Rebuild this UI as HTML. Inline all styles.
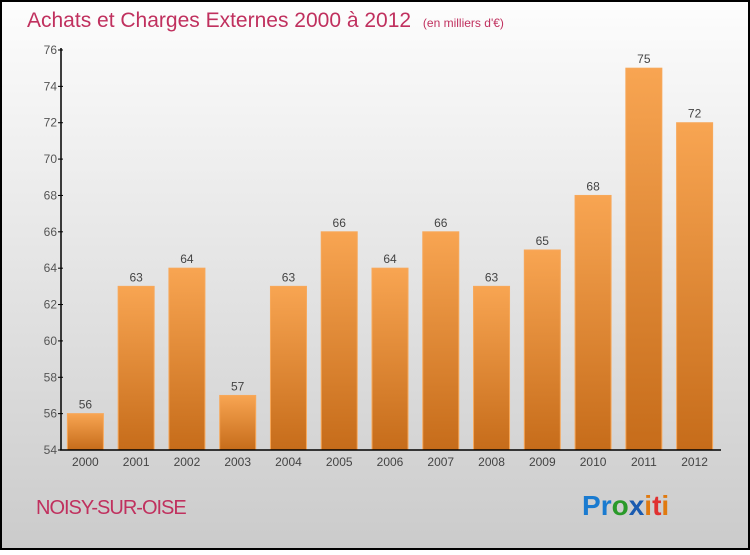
<!DOCTYPE html>
<html><head><meta charset="utf-8"><style>
body{margin:0}
#c{width:750px;height:550px;position:relative;font-family:"Liberation Sans",sans-serif}
</style></head><body>
<div id="c">
<svg id="s" width="750" height="550" xmlns="http://www.w3.org/2000/svg">
<defs>
<linearGradient id="bg" x1="0" y1="0" x2="0" y2="1"><stop offset="0" stop-color="#fdfdfd"/><stop offset="1" stop-color="#cbcbcb"/></linearGradient>
<linearGradient id="bar" x1="0" y1="0" x2="0" y2="1"><stop offset="0" stop-color="#f8a552"/><stop offset="1" stop-color="#c66c1a"/></linearGradient>
</defs>
<rect x="1" y="1" width="748" height="548" fill="url(#bg)" stroke="#000" stroke-width="2"/>
<text x="27" y="27" font-size="21" fill="#c0305e">Achats et Charges Externes 2000 à 2012 <tspan font-size="12" dx="6">(en milliers d'€)</tspan></text>
<g id="bars"></g>
<g id="axes"></g>
<text x="36" y="514" font-size="20" fill="#c0305e" letter-spacing="-1">NOISY-SUR-OISE</text>
<text x="582" y="515" font-size="28" font-weight="bold"><tspan fill="#1a7bd0">P</tspan><tspan fill="#1a7bd0">r</tspan><tspan fill="#2a9a2a">o</tspan><tspan fill="#1a5bb0">x</tspan><tspan fill="#e07a10">i</tspan><tspan fill="#e03030">t</tspan><tspan fill="#e07a10">i</tspan></text>
</svg></div>
<script>
const categories=["2000","2001","2002","2003","2004","2005","2006","2007","2008","2009","2010","2011","2012"];
const values=[56,63,64,57,63,66,64,66,63,65,68,75,72];
const yTicks=[54,56,58,60,62,64,66,68,70,72,74,76];
const NS="http://www.w3.org/2000/svg";
const x0=60,x1=720,y0=450,y1=50,vmin=54,vmax=76;
const band=(x1-x0)/categories.length;
const yS=v=>y0-(v-vmin)/(vmax-vmin)*(y0-y1);
const xS=i=>x0+band*(i+0.5);
function mk(t,a,p){const e=document.createElementNS(NS,t);for(const k in a)e.setAttribute(k,a[k]);p.appendChild(e);return e;}
const bars=document.getElementById('bars'),axes=document.getElementById('axes');
values.forEach((v,i)=>{
 const r=mk('rect',{x:xS(i)-18,y:yS(v),width:36,height:y0-yS(v),fill:'url(#bar)',stroke:'#f7a85a','stroke-width':1},bars);
 
 
 const t=mk('text',{x:xS(i),y:yS(v)-5,'text-anchor':'middle','font-size':12,fill:'#444'},bars);t.textContent=v;
 
 
 const c=mk('text',{x:xS(i),y:y0+16,'text-anchor':'middle','font-size':12,fill:'#444'},axes);c.textContent=categories[i];
 
 
});
const ya=mk('line',{x1:x0+1,y1:y1-2,x2:x0+1,y2:y0,stroke:'#000','stroke-width':1.5},axes);


const xa=mk('line',{x1:x0,y1:y0,x2:x1+1,y2:y0,stroke:'#000','stroke-width':1.5},axes);


yTicks.forEach(v=>{
 mk('line',{x1:x0-2,x2:x0+3,y1:yS(v),y2:yS(v),stroke:'#000'},axes);
 const t=mk('text',{x:x0-3,y:yS(v)+4,'text-anchor':'end','font-size':12,fill:'#555'},axes);t.textContent=v;
 
 
});
</script>
</body></html>
